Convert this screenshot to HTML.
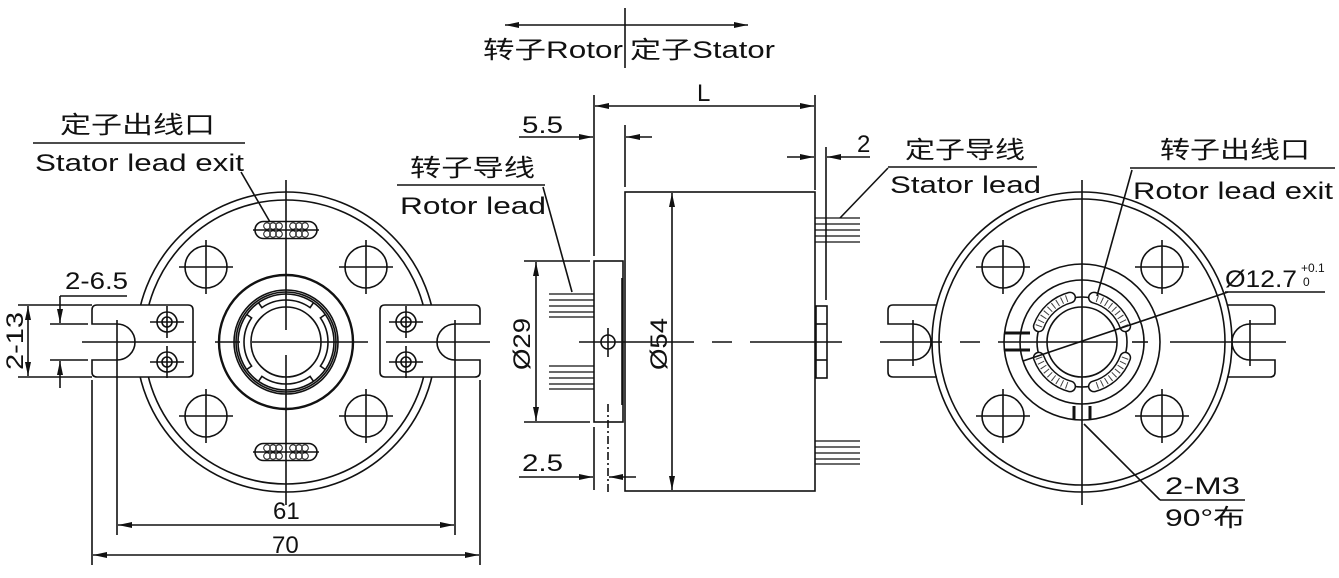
<!DOCTYPE html>
<html><head><meta charset="utf-8"><style>
html,body{margin:0;padding:0;background:#fff;}
svg{display:block;}
text{font-family:"Liberation Sans","Noto Sans CJK SC",sans-serif;fill:#111;}
</style></head><body>
<svg width="1339" height="578" viewBox="0 0 1339 578" xmlns="http://www.w3.org/2000/svg">
<defs>
<marker id="a" viewBox="0 0 14 6" refX="14" refY="3" markerWidth="14" markerHeight="6" orient="auto-start-reverse" markerUnits="userSpaceOnUse"><path d="M0,0 L14,3 L0,6 Z" fill="#111"/></marker>
<g id="bolt"><circle r="21" fill="none"/><line x1="-27" y1="0" x2="27" y2="0"/><line x1="0" y1="-27" x2="0" y2="27"/></g>
<g id="slot"><rect x="-31" y="-8.5" width="62" height="17" rx="8.5" fill="none"/>
<circle cx="-19" cy="-4" r="3.3" fill="none" stroke-width="1"/><circle cx="-13" cy="-4" r="3.3" fill="none" stroke-width="1"/><circle cx="-7" cy="-4" r="3.3" fill="none" stroke-width="1"/><circle cx="7" cy="-4" r="3.3" fill="none" stroke-width="1"/><circle cx="13" cy="-4" r="3.3" fill="none" stroke-width="1"/><circle cx="19" cy="-4" r="3.3" fill="none" stroke-width="1"/>
<circle cx="-19" cy="4" r="3.3" fill="none" stroke-width="1"/><circle cx="-13" cy="4" r="3.3" fill="none" stroke-width="1"/><circle cx="-7" cy="4" r="3.3" fill="none" stroke-width="1"/><circle cx="7" cy="4" r="3.3" fill="none" stroke-width="1"/><circle cx="13" cy="4" r="3.3" fill="none" stroke-width="1"/><circle cx="19" cy="4" r="3.3" fill="none" stroke-width="1"/>
<line x1="-33" y1="0" x2="33" y2="0"/></g>
<g id="wires"><path d="M43.2,-15.7 A46,46 0 0 0 11.9,-44.4" fill="none" stroke-width="12" stroke-linecap="round"/><path d="M43.2,-15.7 A46,46 0 0 0 11.9,-44.4" fill="none" stroke="#fff" stroke-width="9" stroke-linecap="round"/><path d="M43.2,-15.7 A46,46 0 0 0 11.9,-44.4" fill="none" stroke-width="7" stroke-dasharray="1,4" opacity="0.8"/></g>
<g id="notch"><path d="M-27.5,-39.3 L-24.1,-34.4 A42,42 0 0 1 24.1,-34.4 L27.5,-39.3" fill="none"/></g>
</defs>
<g stroke="#111" stroke-width="1.6" fill="none">
<line x1="505" y1="25" x2="748" y2="25" marker-start="url(#a)" marker-end="url(#a)"/>
<line x1="625" y1="8" x2="625" y2="68"/>

<!-- LEFT VIEW -->
<circle cx="286" cy="342" r="150"/>
<circle cx="286" cy="342" r="142"/>
<circle cx="286" cy="342" r="67" stroke-width="2.4"/>
<circle cx="286" cy="342" r="52"/><circle cx="286" cy="342" r="50"/><circle cx="286" cy="342" r="48"/>
<circle cx="286" cy="342" r="35"/>
<g transform="translate(286,342)"><use href="#notch"/><use href="#notch" transform="rotate(90)"/><use href="#notch" transform="rotate(180)"/><use href="#notch" transform="rotate(270)"/></g>
<line x1="286" y1="180" x2="286" y2="330"/><line x1="286" y1="355" x2="286" y2="505"/>
<line x1="215" y1="342" x2="240" y2="342"/><line x1="252" y1="342" x2="368" y2="342"/>
<use href="#bolt" x="206" y="267"/><use href="#bolt" x="366" y="267"/><use href="#bolt" x="206" y="416"/><use href="#bolt" x="366" y="416"/>
<use href="#slot" x="286" y="230"/><use href="#slot" x="286" y="452"/>
<path d="M142,305 L97,305 Q92,305 92,310 L92,324 L117,324 A18,18 0 0 1 117,360 L92,360 L92,372 Q92,377 97,377 L188,377 Q193,377 193,372 L193,310 Q193,305 188,305 L142,305" fill="#fff"/>
<line x1="82" y1="342" x2="196" y2="342"/><line x1="117" y1="320" x2="117" y2="366"/>
<circle cx="167" cy="322" r="10"/><circle cx="167" cy="322" r="5"/><line x1="150" y1="322" x2="184" y2="322"/><line x1="167" y1="306" x2="167" y2="338"/>
<circle cx="167" cy="362" r="10"/><circle cx="167" cy="362" r="5"/><line x1="150" y1="362" x2="184" y2="362"/><line x1="167" y1="346" x2="167" y2="378"/>
<path d="M430,305 L475,305 Q480,305 480,310 L480,324 L455,324 A18,18 0 0 0 455,360 L480,360 L480,372 Q480,377 475,377 L385,377 Q380,377 380,372 L380,310 Q380,305 385,305 L430,305" fill="#fff"/>
<line x1="386" y1="342" x2="490" y2="342"/><line x1="455" y1="320" x2="455" y2="366"/>
<circle cx="406" cy="322" r="10"/><circle cx="406" cy="322" r="5"/><line x1="389" y1="322" x2="423" y2="322"/><line x1="406" y1="306" x2="406" y2="338"/>
<circle cx="406" cy="362" r="10"/><circle cx="406" cy="362" r="5"/><line x1="389" y1="362" x2="423" y2="362"/><line x1="406" y1="346" x2="406" y2="378"/>
<line x1="18" y1="305" x2="92" y2="305"/><line x1="18" y1="377" x2="92" y2="377"/>
<line x1="28" y1="306" x2="28" y2="376" marker-start="url(#a)" marker-end="url(#a)"/>
<line x1="50" y1="324" x2="88" y2="324"/><line x1="50" y1="360" x2="88" y2="360"/>
<line x1="60" y1="296" x2="60" y2="323" marker-end="url(#a)"/><line x1="60" y1="388" x2="60" y2="361" marker-end="url(#a)"/>
<line x1="60" y1="296" x2="127" y2="296"/>
<line x1="92" y1="380" x2="92" y2="565"/><line x1="117" y1="366" x2="117" y2="535"/>
<line x1="455" y1="366" x2="455" y2="535"/><line x1="480" y1="380" x2="480" y2="565"/>
<line x1="118" y1="525" x2="454" y2="525" marker-start="url(#a)" marker-end="url(#a)"/>
<line x1="93" y1="555" x2="479" y2="555" marker-start="url(#a)" marker-end="url(#a)"/>
<line x1="33" y1="143" x2="245" y2="143"/>
<line x1="241" y1="172" x2="270" y2="222"/>

<!-- MIDDLE VIEW -->
<rect x="625" y="192" width="190" height="299"/>
<rect x="594" y="261" width="29" height="161"/>
<line x1="622" y1="278" x2="622" y2="405"/>
<rect x="816" y="306" width="11" height="72"/><line x1="816" y1="324" x2="827" y2="324"/><line x1="816" y1="360" x2="827" y2="360"/>
<line x1="579" y1="342" x2="694" y2="342"/><line x1="712" y1="342" x2="732" y2="342"/><line x1="750" y1="342" x2="842" y2="342"/>
<circle cx="608" cy="342" r="7"/><line x1="608" y1="328" x2="608" y2="357"/>
<line x1="608" y1="404" x2="608" y2="492" stroke-dasharray="8,3,2,3"/>
<line x1="594" y1="95" x2="594" y2="256"/><line x1="594" y1="427" x2="594" y2="490"/>
<line x1="815" y1="95" x2="815" y2="190"/>
<line x1="595" y1="106" x2="814" y2="106" marker-start="url(#a)" marker-end="url(#a)"/>
<line x1="625" y1="125" x2="625" y2="187"/>
<line x1="519" y1="137" x2="593" y2="137" marker-end="url(#a)"/><line x1="652" y1="137" x2="626" y2="137" marker-end="url(#a)"/>
<line x1="826" y1="147" x2="826" y2="300"/>
<line x1="787" y1="157" x2="814" y2="157" marker-end="url(#a)"/><line x1="870" y1="157" x2="827" y2="157" marker-end="url(#a)"/>
<line x1="519" y1="477" x2="593" y2="477" marker-end="url(#a)"/><line x1="636" y1="477" x2="609" y2="477" marker-end="url(#a)"/>
<line x1="524" y1="261" x2="590" y2="261"/><line x1="524" y1="422" x2="590" y2="422"/>
<line x1="536" y1="262" x2="536" y2="421" marker-start="url(#a)" marker-end="url(#a)"/>
<line x1="672" y1="193" x2="672" y2="490" marker-start="url(#a)" marker-end="url(#a)"/>
<g stroke-width="1.3">
<line x1="549" y1="294" x2="594" y2="294"/><line x1="549" y1="300" x2="594" y2="300"/><line x1="549" y1="306" x2="594" y2="306"/><line x1="549" y1="312" x2="594" y2="312"/><line x1="549" y1="317" x2="594" y2="317"/>
<line x1="549" y1="366" x2="594" y2="366"/><line x1="549" y1="372" x2="594" y2="372"/><line x1="549" y1="378" x2="594" y2="378"/><line x1="549" y1="384" x2="594" y2="384"/><line x1="549" y1="389" x2="594" y2="389"/>
<line x1="815" y1="218" x2="860" y2="218"/><line x1="815" y1="224" x2="860" y2="224"/><line x1="815" y1="230" x2="860" y2="230"/><line x1="815" y1="236" x2="860" y2="236"/><line x1="815" y1="242" x2="860" y2="242"/>
<line x1="815" y1="441" x2="860" y2="441"/><line x1="815" y1="447" x2="860" y2="447"/><line x1="815" y1="453" x2="860" y2="453"/><line x1="815" y1="459" x2="860" y2="459"/><line x1="815" y1="464" x2="860" y2="464"/>
</g>
<line x1="397" y1="185" x2="545" y2="185"/><line x1="543" y1="187" x2="572" y2="292"/>
<line x1="888" y1="167" x2="1037" y2="167"/><line x1="888" y1="168" x2="840" y2="218"/>

<!-- RIGHT VIEW -->
<circle cx="1082" cy="342" r="150"/>
<circle cx="1082" cy="342" r="143"/>
<path d="M937,305 L893,305 Q888,305 888,310 L888,324 L913,324 A18,18 0 0 1 931,342"/>
<path d="M931,342 A18,18 0 0 1 913,360 L888,360 L888,372 Q888,377 893,377 L937,377"/>
<line x1="913" y1="320" x2="913" y2="366"/>
<path d="M1227,305 L1270,305 Q1275,305 1275,310 L1275,324 L1250,324 A18,18 0 0 0 1250,360 L1275,360 L1275,372 Q1275,377 1270,377 L1227,377"/>
<line x1="1250" y1="320" x2="1250" y2="366"/>
<line x1="880" y1="342" x2="942" y2="342"/><line x1="960" y1="342" x2="980" y2="342"/><line x1="998" y1="342" x2="1117" y2="342"/><line x1="1132" y1="342" x2="1148" y2="342"/><line x1="1170" y1="342" x2="1286" y2="342"/>
<line x1="1082" y1="180" x2="1082" y2="505"/>
<use href="#bolt" x="1003" y="267"/><use href="#bolt" x="1162" y="267"/><use href="#bolt" x="1003" y="416"/><use href="#bolt" x="1162" y="416"/>
<circle cx="1082" cy="342" r="78"/>
<circle cx="1082" cy="342" r="62"/>
<circle cx="1082" cy="342" r="45"/>
<circle cx="1082" cy="342" r="35"/>
<g transform="translate(1082,342)"><use href="#wires"/><use href="#wires" transform="scale(-1,1)"/><use href="#wires" transform="scale(1,-1)"/><use href="#wires" transform="scale(-1,-1)"/></g>
<line x1="1005" y1="333" x2="1030" y2="333" stroke-width="3"/><line x1="1005" y1="350" x2="1030" y2="350" stroke-width="3"/>
<line x1="1074" y1="406" x2="1074" y2="420" stroke-width="3"/><line x1="1090" y1="406" x2="1090" y2="420" stroke-width="3"/>
<line x1="1023" y1="361" x2="1228" y2="292"/><line x1="1225" y1="292" x2="1325" y2="292"/>
<line x1="1130" y1="168" x2="1335" y2="168"/><line x1="1132" y1="170" x2="1097" y2="296"/>
<line x1="1160" y1="500" x2="1245" y2="500"/><line x1="1160" y1="500" x2="1084" y2="424"/>
</g>
<g font-size="24">
<text x="483" y="58" textLength="140" lengthAdjust="spacingAndGlyphs">转子Rotor</text>
<text x="630" y="58" textLength="145" lengthAdjust="spacingAndGlyphs">定子Stator</text>
<text x="60" y="133" textLength="155" lengthAdjust="spacingAndGlyphs">定子出线口</text>
<text x="35" y="171" textLength="209" lengthAdjust="spacingAndGlyphs">Stator lead exit</text>
<text x="410" y="176" textLength="125" lengthAdjust="spacingAndGlyphs">转子导线</text>
<text x="400" y="214" textLength="146" lengthAdjust="spacingAndGlyphs">Rotor lead</text>
<text x="522" y="133" textLength="41" lengthAdjust="spacingAndGlyphs">5.5</text>
<text x="697" y="101">L</text>
<text x="857" y="152">2</text>
<text x="905" y="158" textLength="120" lengthAdjust="spacingAndGlyphs">定子导线</text>
<text x="890" y="193" textLength="151" lengthAdjust="spacingAndGlyphs">Stator lead</text>
<text x="1160" y="158" textLength="150" lengthAdjust="spacingAndGlyphs">转子出线口</text>
<text x="1133" y="199" textLength="200" lengthAdjust="spacingAndGlyphs">Rotor lead exit</text>
<text x="1225" y="287" textLength="72" lengthAdjust="spacingAndGlyphs">Ø12.7</text>
<text x="1301" y="272" font-size="12">+0.1</text><text x="1303" y="286" font-size="12">0</text>
<text x="65" y="289" textLength="63" lengthAdjust="spacingAndGlyphs">2-6.5</text>
<text transform="translate(23,370) rotate(-90)" textLength="58" lengthAdjust="spacingAndGlyphs">2-13</text>
<text x="273" y="519">61</text>
<text x="272" y="553">70</text>
<text x="522" y="471" textLength="41" lengthAdjust="spacingAndGlyphs">2.5</text>
<text transform="translate(530,370) rotate(-90)" textLength="52" lengthAdjust="spacingAndGlyphs">Ø29</text>
<text transform="translate(667,370) rotate(-90)" textLength="52" lengthAdjust="spacingAndGlyphs">Ø54</text>
<text x="1165" y="494" textLength="75" lengthAdjust="spacingAndGlyphs">2-M3</text>
<text x="1165" y="526" textLength="80" lengthAdjust="spacingAndGlyphs">90°布</text>
</g>
</svg>
</body></html>
